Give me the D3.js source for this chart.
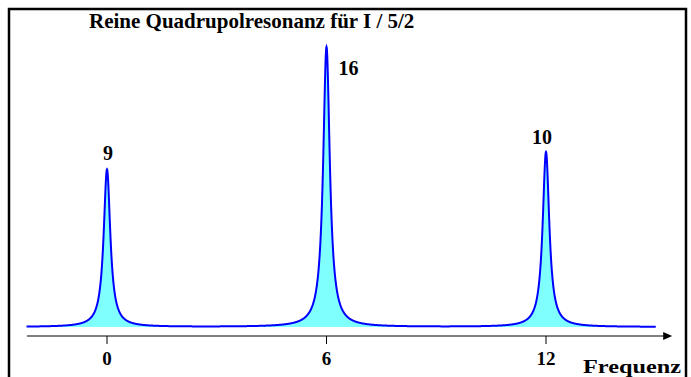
<!DOCTYPE html>
<html><head><meta charset="utf-8">
<script src="https://cdn.jsdelivr.net/npm/d3@7"></script>
<style>body{margin:0;background:#fff}svg{display:block}text{font-family:"Liberation Serif","Times New Roman",serif;font-weight:bold}</style>
</head><body><svg id="c" width="691" height="377"></svg>
<script>
const title = "Reine Quadrupolresonanz für I / 5/2";
const peakPositions = [0, 6, 12];
const peakHeights = [9, 16, 10];
const peakLabels = ["9", "16", "10"];
const tickValues = [0, 6, 12];
const tickLabels = ["0", "6", "12"];
const axisTitle = "Frequenz";
const lineWidthHWHM = 0.11; // half width at half maximum, frequency units

const svg = d3.select("#c");
const x = d3.scaleLinear().domain([0, 12]).range([107, 546]);
const y = d3.scaleLinear().domain([0, 16]).range([327, 47]);

// frame
svg.append("path").attr("d","M9,377 V9 H686 V377").attr("fill","none").attr("stroke","#000").attr("stroke-width",2.5);

// title
svg.append("text").attr("x",89).attr("y",28).attr("font-size",21).text(title);

// curve
const xs = d3.range(-2.2, 15.0001, 0.005);
const spec = xs.map(f => [f, d3.sum(peakPositions, (p,i) => peakHeights[i] / (1 + ((f-p)/lineWidthHWHM)**2))]);
svg.append("path").datum(spec)
  .attr("d", d3.area().x(d=>x(d[0])).y0(y(0)).y1(d=>y(d[1])))
  .attr("fill","#80ffff");
svg.append("path").datum(spec)
  .attr("d", d3.line().x(d=>x(d[0])).y(d=>y(d[1])))
  .attr("fill","none").attr("stroke","#0000ff").attr("stroke-width",2);

// axis
const axY = 336;
svg.append("line").attr("x1",x(-2.19)).attr("x2",x(15.3)).attr("y1",axY).attr("y2",axY).attr("stroke","#000").attr("stroke-width",1);
const ax = x(15.45);
svg.append("path").attr("d",`M${ax},${axY} L${ax-9},${axY-4} L${ax-9},${axY+4} Z`).attr("fill","#000");
svg.selectAll(".tk").data(tickValues).enter().append("line")
  .attr("x1",d=>x(d)).attr("x2",d=>x(d)).attr("y1",axY).attr("y2",axY+8).attr("stroke","#000");
svg.selectAll(".tl").data(tickValues).enter().append("text")
  .attr("x",d=>x(d)).attr("y",365).attr("text-anchor","middle").attr("font-size",19)
  .text((d,i)=>tickLabels[i]);
svg.append("text").attr("x",583).attr("y",373).attr("font-size",19)
  .attr("textLength",98).attr("lengthAdjust","spacingAndGlyphs").text(axisTitle);

// peak labels
const labelDx = [1, 22, -4];
const labelDy = [-9.5, 28, -8];
svg.selectAll(".pl").data(peakPositions).enter().append("text")
  .attr("x",(d,i)=>x(d)+labelDx[i]).attr("y",(d,i)=>y(peakHeights[i])+labelDy[i])
  .attr("text-anchor","middle").attr("font-size",20).text((d,i)=>peakLabels[i]);
</script></body></html>
